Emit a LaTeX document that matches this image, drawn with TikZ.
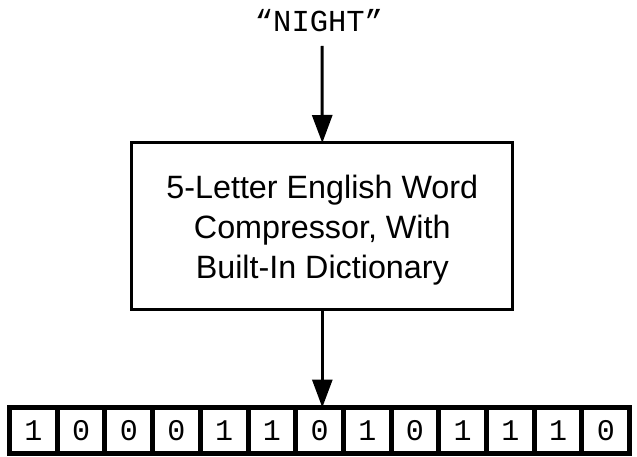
\documentclass[tikz,border=0pt]{standalone}
\usepackage{fontspec}
\setmainfont{Liberation Sans}
\newfontfamily\cour{Liberation Mono}
\usetikzlibrary{arrows.meta}
\tikzset{
  conn/.style={line width=3pt,-{Triangle[width=20pt,length=28pt]}},
  mainbox/.style={draw,line width=3pt,minimum width=381pt,minimum height=166pt,inner sep=0pt,outer sep=0pt},
  boxtext/.style={inner sep=0pt,align=center,font=\fontsize{32.3pt}{40pt}\selectfont},
  bitcell/.style={draw,line width=5pt,minimum width=47.7pt,minimum height=46pt,inner sep=0pt,outer sep=0pt,
    font=\cour\fontsize{30pt}{30pt}\selectfont}
}
\begin{document}
\begin{tikzpicture}[x=1pt,y=-1pt]
\useasboundingbox (0,0) rectangle (637,457);
\node[anchor=base,inner sep=0pt,font=\cour\fontsize{30.5pt}{30pt}\selectfont] (in) at (319,32) {“NIGHT”};
\coordinate (src) at (322,46);
\node[mainbox] (box) at (322.3,226) {};
\node[boxtext] (lbl) at (322.3,230) {5-Letter English Word\\Compressor, With\\Built-In Dictionary};
\foreach \b [count=\i] in {1,0,0,0,1,1,0,1,0,1,1,1,0} {
  \node[bitcell] (c\i) at ({9.5+(\i-0.5)*47.7},430.5) {\b};
}
\draw[conn] (src) -- (box.north);
\draw[conn] (box.south) -- (box.south |- c7.north);
\end{tikzpicture}
\end{document}
